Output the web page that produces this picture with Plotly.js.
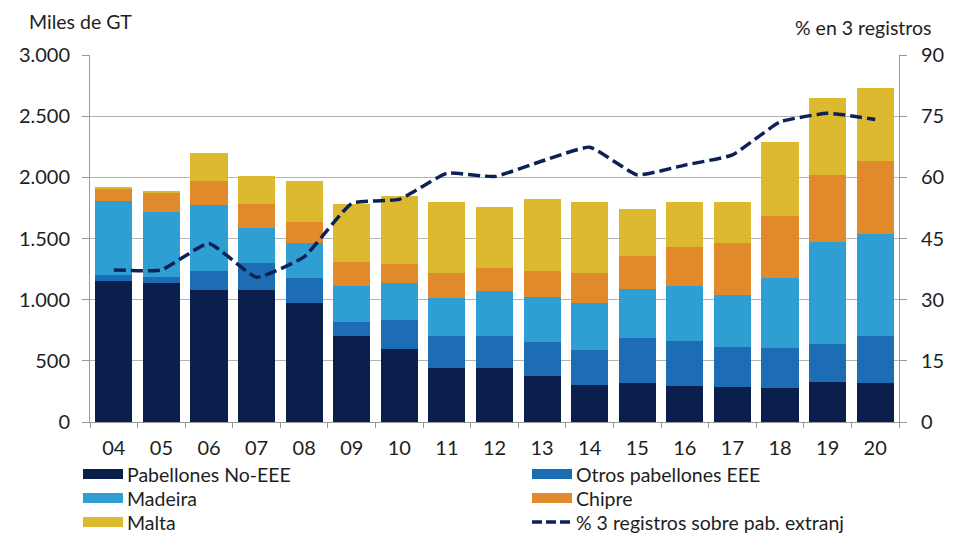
<!DOCTYPE html>
<html>
<head>
<meta charset="utf-8">
<script src="https://cdn.plot.ly/plotly-3.0.1.min.js"></script>
<style>
  body { margin: 0; background: #fff; }
  #graph { width: 960px; height: 536px; }
</style>
</head>
<body>
<div id="graph"></div>
<script>
// años (eje de categorías)
var years = ['04','05','06','07','08','09','10','11','12','13','14','15','16','17','18','19','20'];

// miles de GT por registro
var noEEE   = [1155,1140,1075,1075, 975, 705, 595, 440, 440, 380, 300, 315, 295, 290, 275, 330, 315];
var otrosEEE= [  50,  45, 160, 225, 205, 115, 240, 260, 260, 270, 285, 370, 370, 320, 330, 310, 385];
var madeira = [ 605, 535, 535, 285, 280, 290, 300, 315, 370, 375, 385, 405, 445, 430, 570, 830, 835];
var chipre  = [  95, 155, 200, 200, 175, 195, 160, 200, 185, 210, 245, 265, 320, 420, 505, 550, 595];
var malta   = [  15,  15, 230, 230, 335, 475, 555, 585, 500, 585, 585, 390, 370, 340, 610, 625, 600];

// % en 3 registros sobre pabellones extranjeros
var pct3 = [37.3, 37.3, 43.8, 35.5, 40.5, 53.6, 54.6, 61.0, 60.2, 64.0, 67.4, 60.6, 63.0, 65.5, 73.6, 75.7, 74.2];

var fontFam = 'Lato, "Open Sans", sans-serif';
var txtColor = '#1e1e1e';

var colors = {
  noEEE: '#0b1f4d',
  otros: '#1c6db4',
  madeira: '#2f9fd3',
  chipre: '#e08a2c',
  malta: '#ddb930',
  line: '#0c2257'
};
var lineDash = '12px,5px';

function barTrace(name, vals, color)
{
  return {
    x: years,
    y: vals,
    type: 'bar',
    name: name,
    marker: { color: color },
    hoverinfo: 'skip'
  };
}

var data = [
  barTrace('Pabellones No-EEE', noEEE, colors.noEEE),
  barTrace('Otros pabellones EEE', otrosEEE, colors.otros),
  barTrace('Madeira', madeira, colors.madeira),
  barTrace('Chipre', chipre, colors.chipre),
  barTrace('Malta', malta, colors.malta),
  {
    x: years,
    y: pct3,
    type: 'scatter',
    mode: 'lines',
    name: '% 3 registros sobre pab. extranj',
    yaxis: 'y2',
    line: { color: colors.line, width: 3.5, dash: lineDash, shape: 'spline', smoothing: 0.4 },
    hoverinfo: 'skip'
  }
];

// plot area in pixels: x 90..899, y 55..422
function px(x) { return (x - 90) / 809; }
function py(y) { return (422 - y) / 367; }

// legend by hand (two columns)
var legendItems = [
  { name: 'Pabellones No-EEE', color: colors.noEEE, col: 0, row: 0 },
  { name: 'Otros pabellones EEE', color: colors.otros, col: 1, row: 0 },
  { name: 'Madeira', color: colors.madeira, col: 0, row: 1 },
  { name: 'Chipre', color: colors.chipre, col: 1, row: 1 },
  { name: 'Malta', color: colors.malta, col: 0, row: 2 },
  { name: '% 3 registros sobre pab. extranj', color: colors.line, col: 1, row: 2, line: true }
];
var colX = [83, 532];
var rowY = [474, 498, 522];

var shapes = [];
var annotations = [
  {
    text: 'Miles de GT',
    xref: 'paper', yref: 'paper',
    x: px(27), y: py(22),
    xanchor: 'left', yanchor: 'middle',
    showarrow: false,
    font: { family: fontFam, size: 19.5, color: txtColor }
  },
  {
    text: '% en 3 registros',
    xref: 'paper', yref: 'paper',
    x: px(934), y: py(28),
    xanchor: 'right', yanchor: 'middle',
    showarrow: false,
    font: { family: fontFam, size: 19.5, color: txtColor }
  }
];

legendItems.forEach(function(it)
{
  var x0 = colX[it.col];
  var yc = rowY[it.row];
  if(it.line)
  {
    shapes.push({
      type: 'line', xref: 'paper', yref: 'paper',
      x0: px(x0), x1: px(x0 + 42), y0: py(yc), y1: py(yc),
      line: { color: it.color, width: 3.5, dash: '10px,4px' }
    });
  }
  else
  {
    shapes.push({
      type: 'rect', xref: 'paper', yref: 'paper',
      x0: px(x0), x1: px(x0 + 40), y0: py(yc - 5), y1: py(yc + 5),
      fillcolor: it.color, line: { width: 0 }
    });
  }
  annotations.push({
    text: it.name,
    xref: 'paper', yref: 'paper',
    x: px(x0 + 43), y: py(yc),
    xanchor: 'left', yanchor: 'middle',
    showarrow: false,
    borderpad: 0,
    font: { family: fontFam, size: 19.5, color: txtColor }
  });
});

var layout = {
  width: 960,
  height: 536,
  margin: { l: 90, r: 61, t: 55, b: 114 },
  paper_bgcolor: '#fff',
  plot_bgcolor: '#fff',
  separators: ',.',
  barmode: 'stack',
  bargap: 0.22,
  showlegend: false,
  font: { family: fontFam, size: 20, color: txtColor },
  xaxis: {
    type: 'category',
    tickson: 'boundaries',
    ticks: 'outside',
    ticklen: 5,
    tickcolor: '#999',
    showline: true,
    linecolor: '#999',
    linewidth: 1,
    showgrid: false,
    ticklabelstandoff: 8,
    tickfont: { size: 20 }
  },
  yaxis: {
    range: [0, 3000],
    dtick: 500,
    tickformat: ',d',
    ticks: 'outside',
    ticklen: 7,
    tickcolor: '#999',
    showline: true,
    linecolor: '#999',
    gridcolor: '#b3b3b3',
    gridwidth: 1,
    zeroline: false,
    ticklabelstandoff: 8,
    tickfont: { size: 20 }
  },
  yaxis2: {
    overlaying: 'y',
    side: 'right',
    range: [0, 90],
    dtick: 15,
    ticks: 'outside',
    ticklen: 7,
    tickcolor: '#999',
    showline: true,
    linecolor: '#999',
    showgrid: false,
    zeroline: false,
    ticklabelstandoff: 10,
    tickfont: { size: 20 }
  },
  shapes: shapes,
  annotations: annotations
};

Plotly.newPlot('graph', data, layout, { staticPlot: true });
</script>
</body>
</html>
